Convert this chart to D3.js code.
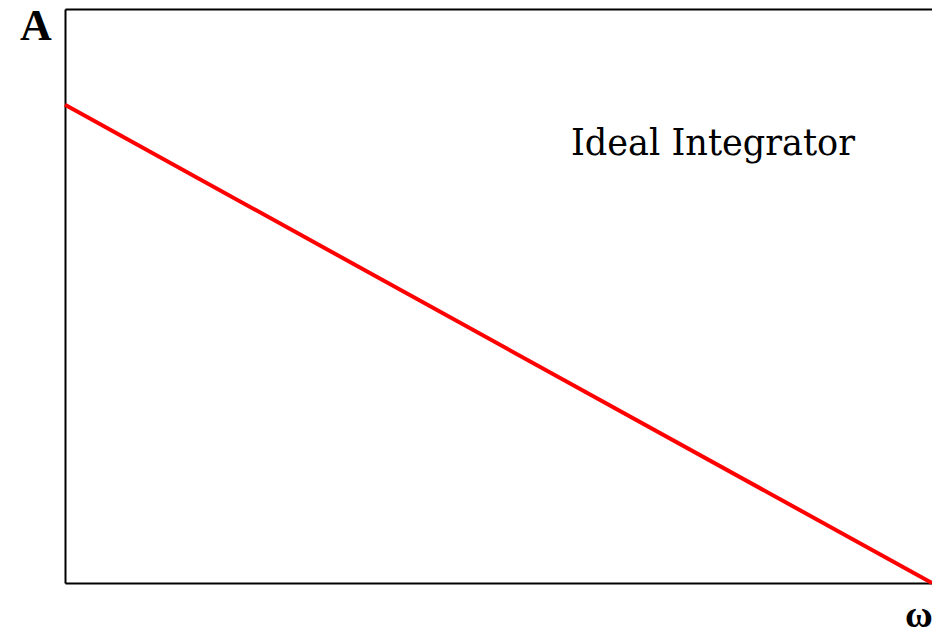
<!DOCTYPE html>
<html>
<head>
<meta charset="utf-8">
<script src="https://cdn.jsdelivr.net/npm/d3@7"></script>
<style>
  body { margin: 0; background: #fff; }
</style>
</head>
<body>
<div class="container"></div>
<script>
// chart data: normalised frequency vs amplitude of the ideal integrator
const omega = [0, 1];
const amplitude = [0.833, 0];
const label = "Ideal Integrator";

const width = 932;
const height = 631;
const margin = { top: 9, bottom: 48, left: 65, right: 0 };

const svg = d3.select(".container")
  .append("svg")
  .attr("width", width)
  .attr("height", height);

const xScale = d3.scaleLinear()
  .domain([0, 1])
  .range([margin.left, width - margin.right]);

const yScale = d3.scaleLinear()
  .domain([0, 1])
  .range([height - margin.bottom, margin.top]);

// axes without ticks, just the frame lines
svg.append("g")
  .attr("transform", `translate(0, ${height - margin.bottom})`)
  .call(d3.axisBottom(xScale).ticks(0).tickSize(0).tickSizeOuter(0))
  .call(g => g.select(".domain").attr("stroke", "#000").attr("stroke-width", 2));

svg.append("g")
  .attr("transform", `translate(0, ${margin.top})`)
  .call(d3.axisTop(xScale).ticks(0).tickSize(0).tickSizeOuter(0))
  .call(g => g.select(".domain").attr("stroke", "#000").attr("stroke-width", 2));

svg.append("g")
  .attr("transform", `translate(${margin.left}, 0)`)
  .call(d3.axisLeft(yScale).ticks(0).tickSize(0).tickSizeOuter(0))
  .call(g => g.select(".domain").attr("stroke", "#000").attr("stroke-width", 2));

// the red response line
const line = d3.line()
  .x((d, i) => xScale(omega[i]))
  .y(d => yScale(d));

svg.append("path")
  .datum(amplitude)
  .attr("d", line)
  .attr("fill", "none")
  .attr("stroke", "#ff0000")
  .attr("stroke-width", 4);

// axis letters
svg.append("text")
  .attr("x", 20)
  .attr("y", 40)
  .attr("font-family", "Liberation Serif")
  .attr("font-weight", "bold")
  .attr("font-size", 44)
  .text("A");

svg.append("text")
  .attr("x", 905)
  .attr("y", 627)
  .attr("font-family", "Liberation Serif")
  .attr("font-weight", "bold")
  .attr("font-size", 38)
  .text("ω");

svg.append("text")
  .attr("x", 571)
  .attr("y", 155)
  .attr("font-family", "DejaVu Serif")
  .attr("font-size", 37)
  .attr("textLength", 284)
  .attr("lengthAdjust", "spacingAndGlyphs")
  .text(label);
</script>
</body>
</html>
